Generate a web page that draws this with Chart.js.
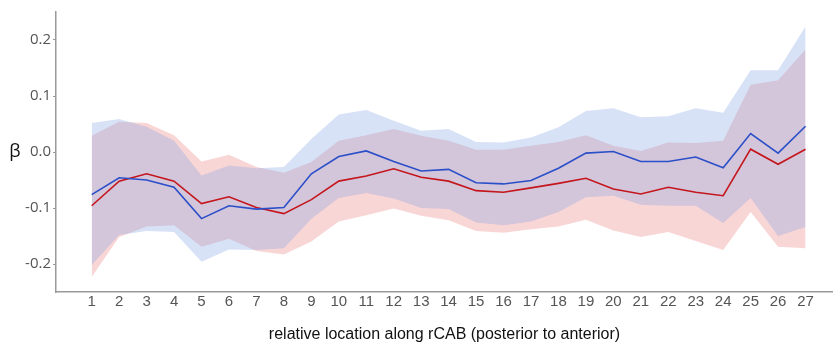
<!DOCTYPE html>
<html>
<head>
<meta charset="utf-8">
<style>
html,body{margin:0;padding:0;background:#fff;}
#wrap{width:833px;height:344px;}
</style>
<script src="https://cdn.jsdelivr.net/npm/chart.js@4/dist/chart.umd.min.js"></script>
</head>
<body>
<div id="wrap"><canvas id="c" width="833" height="344"></canvas></div>
<script>
const locations = [1,2,3,4,5,6,7,8,9,10,11,12,13,14,15,16,17,18,19,20,21,22,23,24,25,26,27];
const blueMean  = [-0.076,-0.046,-0.050,-0.063,-0.119,-0.096,-0.102,-0.099,-0.039,-0.008,0.002,-0.017,-0.034,-0.031,-0.055,-0.057,-0.051,-0.029,-0.002,0.001,-0.017,-0.017,-0.009,-0.028,0.033,-0.002,0.046];
const blueUpper = [0.052,0.059,0.045,0.020,-0.042,-0.024,-0.029,-0.027,0.023,0.067,0.075,0.056,0.038,0.041,0.018,0.017,0.026,0.044,0.073,0.078,0.062,0.064,0.078,0.070,0.146,0.146,0.224];
const blueLower = [-0.202,-0.148,-0.141,-0.143,-0.196,-0.174,-0.175,-0.172,-0.119,-0.082,-0.073,-0.083,-0.100,-0.102,-0.126,-0.131,-0.124,-0.107,-0.081,-0.078,-0.094,-0.096,-0.096,-0.127,-0.082,-0.150,-0.134];
const redMean   = [-0.096,-0.052,-0.039,-0.052,-0.092,-0.080,-0.099,-0.110,-0.085,-0.052,-0.043,-0.030,-0.045,-0.052,-0.069,-0.072,-0.064,-0.056,-0.047,-0.066,-0.075,-0.063,-0.072,-0.078,0.005,-0.022,0.005];
const redUpper  = [0.029,0.054,0.052,0.030,-0.017,-0.005,-0.027,-0.037,-0.018,0.020,0.030,0.041,0.029,0.020,0.004,0.004,0.011,0.018,0.030,0.011,0.002,0.017,0.016,0.020,0.120,0.128,0.183];
const redLower  = [-0.223,-0.152,-0.133,-0.131,-0.169,-0.155,-0.177,-0.183,-0.160,-0.124,-0.113,-0.101,-0.114,-0.122,-0.141,-0.144,-0.138,-0.133,-0.121,-0.140,-0.152,-0.143,-0.159,-0.175,-0.107,-0.169,-0.172];
const yTicks = [-0.2,-0.1,0.0,0.1,0.2];
const xTitle = 'relative location along rCAB (posterior to anterior)';
const yTitle = 'β';

const pts = arr => arr.map((v,i)=>({x:locations[i], y:v}));
const band = (data, color, fill, order) => ({
  data: pts(data), borderWidth: 0, pointRadius: 0, backgroundColor: color,
  fill: fill, order: order, tension: 0
});

const betaLabel = {
  id:'betaLabel',
  afterDraw(chart){
    const ctx = chart.ctx, y = chart.scales.y;
    ctx.save();
    ctx.fillStyle = '#111';
    ctx.font = '18px "Open Sans", sans-serif';
    ctx.textAlign = 'center';
    ctx.textBaseline = 'middle';
    ctx.fillText(yTitle, 15, y.getPixelForValue(0));
    ctx.restore();
  }
};

new Chart(document.getElementById('c'), {
  type: 'line',
  data: {
    datasets: [
      {data: pts(blueMean), borderColor:'#2b4fc9', borderWidth:1.6, pointRadius:0, fill:false, order:0, tension:0},
      {data: pts(redMean), borderColor:'#c4161c', borderWidth:1.6, pointRadius:0, fill:false, order:0, tension:0},
      band(blueUpper, 'rgba(110,150,225,0.28)', '+1', 1),
      band(blueLower, 'rgba(110,150,225,0.28)', false, 1),
      band(redUpper, 'rgba(235,120,120,0.30)', '+1', 2),
      band(redLower, 'rgba(235,120,120,0.30)', false, 2)
    ]
  },
  options: {
    responsive: false,
    animation: false,
    events: [],
    layout: {padding: {top: 12, right: 0, left: 0, bottom: 0}},
    plugins: {legend:{display:false}, tooltip:{enabled:false}},
    scales: {
      x: {
        type: 'linear', min: -0.3, max: 28,
        afterBuildTicks: s => { s.ticks = locations.map(v=>({value:v})); },
        afterFit: s => { s.height = 52; },
        grid: {display:false, drawTicks:false},
        border: {display:true, color:'#9a9a9a', width:1.5},
        ticks: {color:'#555', font:{family:'"Liberation Sans Narrow","Liberation Sans", sans-serif', size:15}, padding:1, maxRotation:0, autoSkip:false},
        title: {display:true, text: xTitle, color:'#111', font:{family:'"Liberation Sans Narrow","Liberation Sans", sans-serif', size:16}, padding:{top:0,bottom:0}}
      },
      y: {
        min: -0.25, max: 0.25,
        afterBuildTicks: s => { s.ticks = yTicks.map(v=>({value:v})); },
        afterFit: s => { s.width = 56; },
        grid: {drawOnChartArea:false, drawTicks:true, tickLength:3, color:'#9a9a9a'},
        border: {display:true, color:'#9a9a9a', width:1.5},
        ticks: {color:'#555', font:{family:'"Open Sans", sans-serif', size:15}, padding:2, callback: v => v.toFixed(1)}
      }
    }
  },
  plugins: [betaLabel]
});
</script>
</body>
</html>
